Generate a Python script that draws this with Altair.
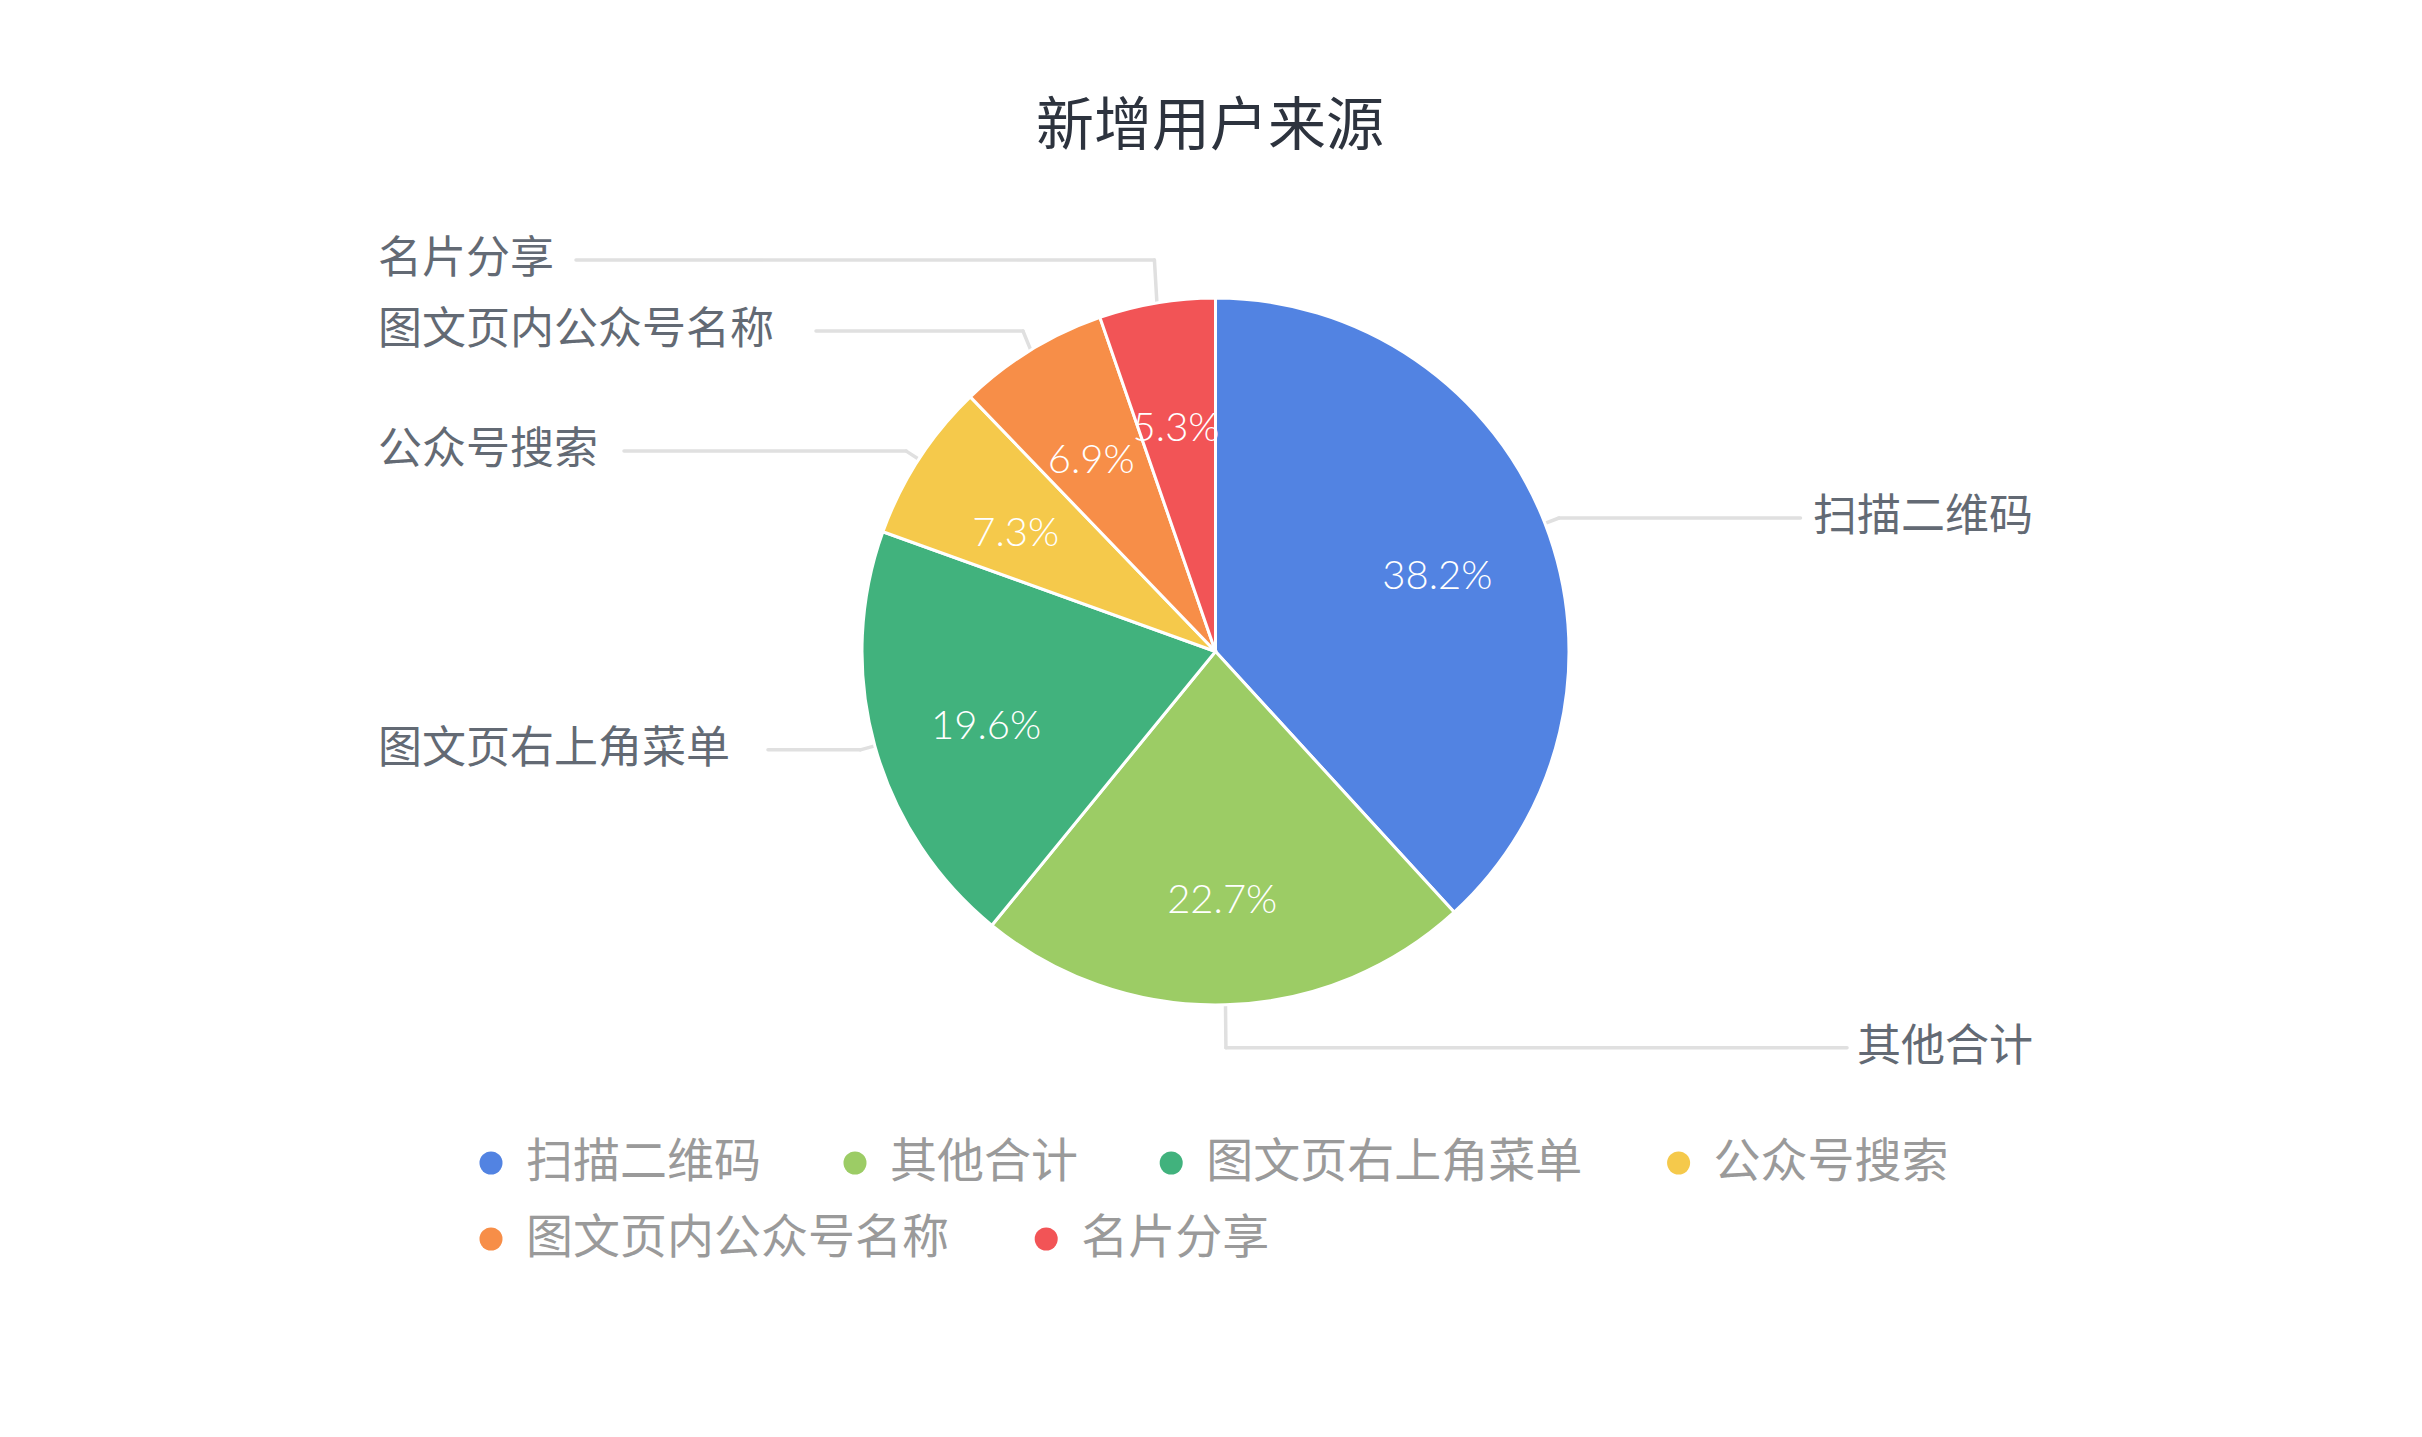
import altair as alt
import pandas as pd

# ---- data ----
title_text = "新增用户来源"
categories = ["扫描二维码", "其他合计", "图文页右上角菜单", "公众号搜索", "图文页内公众号名称", "名片分享"]
values = [38.2, 22.7, 19.6, 7.3, 6.9, 5.3]
colors = ["#5283E2", "#9CCC65", "#41B27D", "#F5C94B", "#F78E48", "#F25456"]

df = pd.DataFrame({"category": categories, "value": values, "idx": list(range(len(categories)))})

# ---- layout constants ----
W, H = 2400, 1414
CX, CY = 1207.5, 643.5
R = 353.5
L = 15
GAP = 71
HH = 38          # half label height used to keep labels off the pie
LX, RX = 370, 2025
CJK = "Noto Sans CJK SC"
color_scale = alt.Scale(domain=categories, range=colors)

base = (
    alt.Chart(df)
    .transform_joinaggregate(total="sum(value)")
    .transform_window(cum="sum(value)", sort=[alt.SortField("idx")], frame=[None, 0])
    .transform_calculate(mid="(datum.cum - datum.value/2)/datum.total*2*PI")
    .transform_calculate(
        ex=f"{CX} + {R}*sin(datum.mid)",
        ey=f"{CY} - {R}*cos(datum.mid)",
        bx=f"{CX} + {R + L}*sin(datum.mid)",
        by0=f"{CY} - {R + L}*cos(datum.mid)",
        side="sin(datum.mid) >= 0 ? 'right' : 'left'",
        sg="sin(datum.mid) >= 0 ? 1 : -1",
        n="length(datum.category)",
    )
    .transform_calculate(
        semi=f"datum.by0 < {CY} ? 'up' : 'down'",
        tx="datum.bx + datum.sg*20",
    )
    .transform_calculate(
        half=f"sqrt(max(0, {R}*{R} - (datum.tx-{CX})*(datum.tx-{CX})))",
    )
    .transform_calculate(
        by1=f"datum.semi == 'up' ? min(datum.by0, {CY} - datum.half - {HH}) : max(datum.by0, {CY} + datum.half + {HH} + 6)",
    )
    .transform_calculate(
        key="datum.semi == 'up' ? -datum.by1 : datum.by1",
    )
    .transform_window(k="row_number()", groupby=["side", "semi"], sort=[alt.SortField("key")])
    .transform_calculate(
        u=f"datum.semi == 'up' ? datum.by1 + (datum.k-1)*{GAP} : datum.by1 - (datum.k-1)*{GAP}"
    )
    .transform_window(mn="min(u)", mx="max(u)", groupby=["side", "semi"],
                      sort=[alt.SortField("key")], frame=[None, 0])
    .transform_calculate(
        by=f"datum.semi == 'up' ? datum.mn - (datum.k-1)*{GAP} : datum.mx + (datum.k-1)*{GAP}",
        lx=f"datum.side == 'right' ? {RX} - datum.n*46.5 : {LX} + datum.n*48 + 6",
    )
)

def X(f):
    return alt.X(f"{f}:Q", scale=None, axis=None)

def Y(f):
    return alt.Y(f"{f}:Q", scale=None, axis=None)

arcs = alt.Chart(df).mark_arc(radius=R, stroke="white", strokeWidth=3).encode(
    theta=alt.Theta("value:Q", stack=True),
    order=alt.Order("idx:Q"),
    color=alt.Color("category:N", scale=color_scale, legend=None),
    x=alt.value(CX),
    y=alt.value(CY),
)

pct_text = alt.Chart(df).transform_calculate(
    pct="format(datum.value, '.1f') + '%'"
).mark_text(radius=238, font="Lato", fontSize=40, fontWeight=300, color="white", dy=12).encode(
    theta=alt.Theta("value:Q", stack=True),
    order=alt.Order("idx:Q"),
    text="pct:N",
    x=alt.value(CX),
    y=alt.value(CY),
)

line_color = "#e0e0e0"
seg1 = base.mark_rule(color=line_color, strokeWidth=3.5, strokeCap="round").encode(
    x=X("ex"), y=Y("ey"), x2="bx:Q", y2="by:Q"
)
seg2 = base.mark_rule(color=line_color, strokeWidth=3.5, strokeCap="round").encode(
    x=X("bx"), y=Y("by"), x2="lx:Q", y2="by:Q"
)

lab_right = base.transform_filter("datum.side == 'right'").mark_text(
    align="right", baseline="middle", font=CJK, fontSize=44, color="#636a74"
).encode(x=alt.value(RX), y=Y("by"), text="category:N")
lab_left = base.transform_filter("datum.side == 'left'").mark_text(
    align="left", baseline="middle", font=CJK, fontSize=44, color="#636a74"
).encode(x=alt.value(LX), y=Y("by"), text="category:N")

# ---- legend (flow layout, 4 items per row) ----
LEG_X0, LEG_Y0, LEG_ROW = 483, 1155, 76
legend_base = (
    alt.Chart(df)
    .transform_calculate(row="floor(datum.idx/4)", w="125 + 47.8*length(datum.category)")
    .transform_window(cw="sum(w)", groupby=["row"], sort=[alt.SortField("idx")], frame=[None, 0])
    .transform_calculate(
        lcx=f"{LEG_X0} + datum.cw - datum.w",
        lcy=f"{LEG_Y0} + datum.row*{LEG_ROW}",
    )
    .transform_calculate(ltx="datum.lcx + 35")
)
leg_sym = legend_base.mark_circle(size=530, opacity=1).encode(
    x=X("lcx"), y=Y("lcy"), color=alt.Color("category:N", scale=color_scale, legend=None)
)
leg_txt = legend_base.mark_text(
    align="left", baseline="middle", font=CJK, fontSize=47, color="#9a9a9a"
).encode(x=X("ltx"), y=Y("lcy"), text="category:N")

title = alt.Chart(pd.DataFrame({"t": [title_text]})).mark_text(
    align="center", baseline="middle", font=CJK, fontSize=58, fontWeight=400, color="#2d333e"
).encode(x=alt.value(1202), y=alt.value(120), text="t:N")

chart = alt.layer(seg1, seg2, arcs, pct_text, lab_right, lab_left, leg_sym, leg_txt, title).properties(
    width=W, height=H, padding=0, autosize=alt.AutoSizeParams(type="none"), background="white"
).configure_view(stroke=None)

chart.save("out.html", embed_options={"renderer": "svg", "actions": False})
